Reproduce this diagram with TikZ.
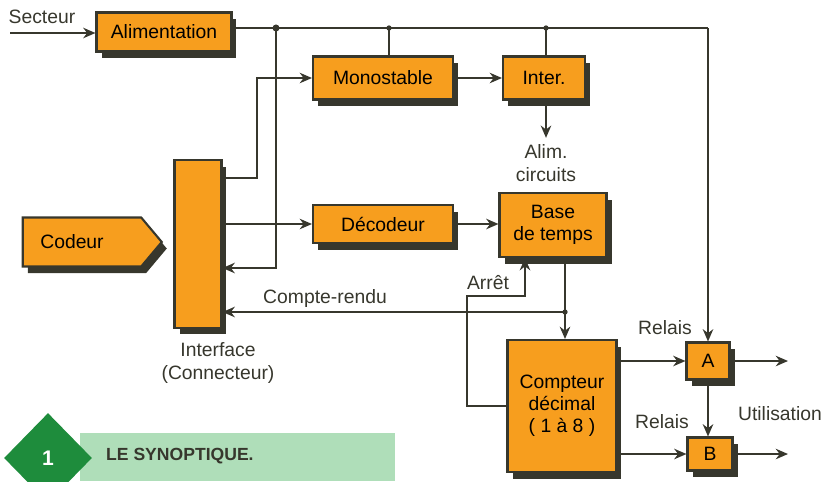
\documentclass[tikz,border=0pt]{standalone}
\usepackage{fontspec}
\setmainfont{Liberation Sans}
\usepackage{xcolor}
\usepackage{tikz}
\usetikzlibrary{positioning, shapes.geometric, shapes.symbols, shadows, arrows.meta}
\definecolor{boxorange}{RGB}{247,158,30}
\definecolor{darkline}{RGB}{55,55,45}
\definecolor{darkgreen}{RGB}{30,140,60}
\definecolor{lightgreen}{RGB}{175,222,185}

\begin{document}
\begin{tikzpicture}[x=0.02cm, y=-0.02cm,
    % Node styles
    block/.style={rectangle, draw=darkline, fill=boxorange, line width=1.2pt, font=\fontsize{11}{12.5}\selectfont,
      drop shadow={shadow xshift=0.1cm, shadow yshift=-0.13cm, fill=darkline, opacity=1}, align=center, inner sep=1pt},
    label/.style={font=\fontsize{11}{13.5}\selectfont, text=darkline, align=center},
    dot/.style={circle, fill=darkline, inner sep=0pt, minimum size=4pt},
    % Edge styles
    edge/.style={draw=darkline, line width=1pt, -{Stealth[length=7pt, width=6pt]}},
    wire/.style={draw=darkline, line width=1pt}
]
\useasboundingbox (0,0) rectangle (834,481);

% Top row
\node[block, minimum width=2.7cm, minimum height=0.78cm] (alim) at (164,32) {Alimentation};
\node[block, minimum width=2.8cm, minimum height=0.86cm] (mono) at (383,78) {Monostable};
\node[block, minimum width=1.64cm, minimum height=0.86cm] (inter) at (544,78) {Inter.};
\node[label] (circ) at (546,163) {Alim.\\circuits};

% Middle row
\node[block, signal, signal to=east, signal pointer angle=100, minimum width=2.78cm, minimum height=0.98cm] (codeur) at (82,242) {Codeur\hspace{4mm}};
\node[block, minimum width=0.94cm, minimum height=3.36cm] (interface) at (198,244) {};
\node[label] (ifname) at (218,363) {Interface\\(Connecteur)};
\node[block, minimum width=2.8cm, minimum height=0.76cm] (decod) at (383,224) {Décodeur};
\node[block, minimum width=2.14cm, minimum height=1.28cm] (base) at (553,225) {Base\\de temps};

% Bottom row
\node[block, minimum width=2.18cm, minimum height=2.64cm] (compteur) at (562,406) {Compteur\\décimal\\( 1 à 8 )};
\node[block, minimum width=0.86cm, minimum height=0.74cm] (relA) at (708,361) {A};
\node[block, minimum width=0.9cm, minimum height=0.66cm] (relB) at (710,454) {B};

% Labels
\node[label] (secteur) at (42,17) {Secteur};
\node[label] (cptrendu) at (325,298) {Compte-rendu};
\node[label] (arret) at (488,283) {Arrêt};
\node[label] (relaisA) at (665,328) {Relais};
\node[label] (relaisB) at (662,422) {Relais};
\node[label] (util) at (780,414) {Utilisation};

% Junction points
\coordinate (in) at (10,33);
\coordinate (b1) at (276,28);
\coordinate (b2) at (389,28);
\coordinate (b3) at (546,28);
\coordinate (b4) at (708,28);
\coordinate (ret) at (276,268);
\coordinate (k1) at (257,178);
\coordinate (cr) at (565,312);
\coordinate (s1) at (467,296);
\coordinate (s2) at (525,296);
\coordinate (outA) at (788,361);
\coordinate (outB) at (788,454);

% Draw all edges
\draw[edge] (in) -- (alim.west |- in);

\draw[wire] (alim.east |- b1) -- (b4);
\draw[edge] (b4) -- (relA.north -| b4);
\draw[wire] (b2) -- (b2 |- mono.north);
\draw[wire] (b3) -- (b3 |- inter.north);
\draw[edge] (b1) -- (ret) -- (interface.east |- ret);

\draw[edge] (interface.east |- k1) -- (k1) |- (mono.west);
\draw[edge] (interface.east |- decod.west) -- (decod.west);

\draw[edge] (mono.east) -- (inter.west);
\draw[edge] (circ.north |- inter.south) -- (circ.north);

\draw[edge] (decod.east) -- (base.west |- decod.east);

\draw[wire] (base.south -| cr) -- (cr);
\draw[edge] (cr) -- (compteur.north -| cr);
\draw[edge] (cr) -- (interface.east |- cr);

\draw[edge] (compteur.west) -| (s1) -- (s2) -- (s2 |- base.south);

\draw[edge] (compteur.east |- relA.west) -- (relA.west);
\draw[edge] (compteur.east |- relB.west) -- (relB.west);
\draw[edge] (relA.east) -- (outA);
\draw[edge] (relB.east) -- (outB);
\draw[edge] (relA.south) -- (relB.north -| relA.south);

\node[dot] at (b1) {};
\node[dot, minimum size=3pt] at (b2) {};
\node[dot, minimum size=3pt] at (b3) {};
\node[dot, minimum size=3pt] at (cr) {};

% Caption
\fill[lightgreen] (80,433) rectangle (395,481);
\node[diamond, fill=darkgreen, minimum width=1.76cm, minimum height=1.8cm, inner sep=0pt] (num) at (48,458) {};
\node[font=\bfseries\fontsize{12}{14}\selectfont, text=white] at (num) {1};
\node[font=\bfseries\fontsize{10}{12}\selectfont, text=darkline, anchor=west] (caption) at (100,456) {LE SYNOPTIQUE.};

\end{tikzpicture}
\end{document}
